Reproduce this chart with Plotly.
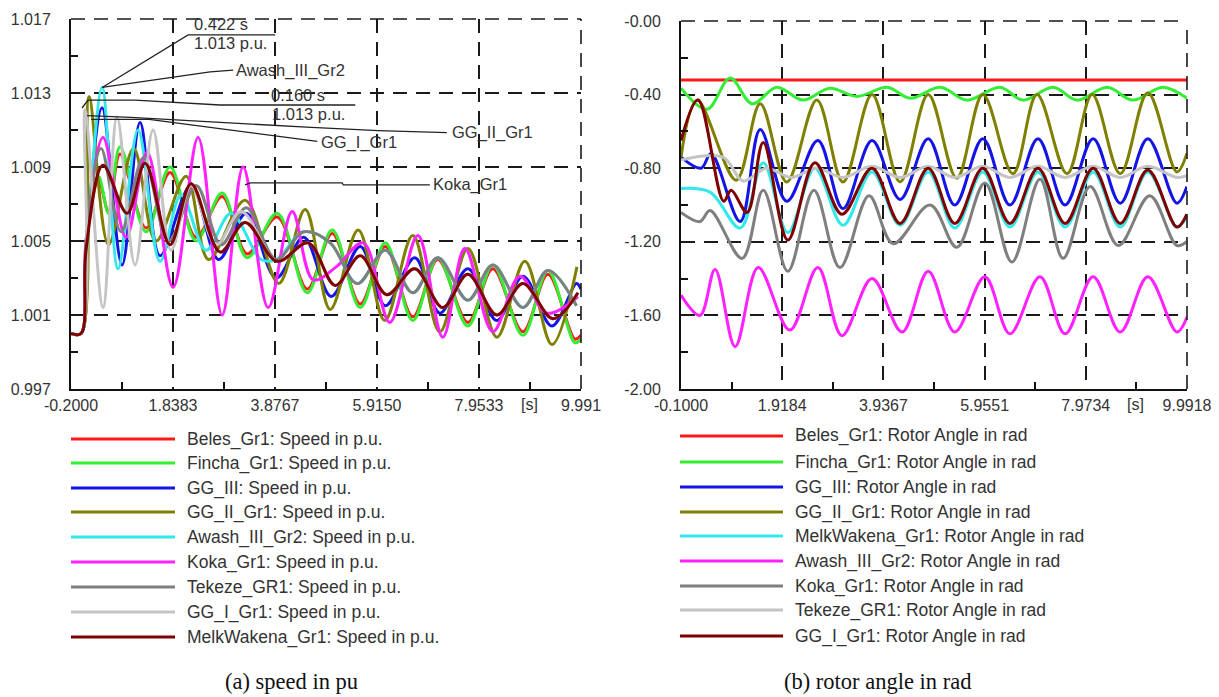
import plotly.graph_objects as go

W, H = 1219, 697

# ---------------- speed (p.u.) ----------------
speed_names = [
    "Beles_Gr1", "Fincha_Gr1", "GG_III", "GG_II_Gr1", "Awash_III_Gr2",
    "Koka_Gr1", "Tekeze_GR1", "GG_I_Gr1", "MelkWakena_Gr1",
]

beles_spd_t = [-0.2, 0.0, 0.15, 0.35, 0.55, 0.78, 1.3, 1.78, 2.3, 2.82, 3.32, 3.92, 4.52, 5.02, 5.58, 6.08, 6.63, 7.13, 7.73, 8.23, 8.83, 9.33, 9.87, 9.99]
beles_spd_v = [1.0, 1.0, 1.0058, 1.0083, 1.0066, 1.0097, 1.0057, 1.0087, 1.0052, 1.0074, 1.0043, 1.0063, 1.0024, 1.0054, 1.0016, 1.0047, 1.0009, 1.0040, 1.0006, 1.0035, 1.0001, 1.0032, 0.9997, 0.9999]

fincha_spd_t = [-0.2, 0.0, 0.15, 0.35, 0.55, 0.78, 1.3, 1.78, 2.3, 2.82, 3.32, 3.92, 4.52, 5.02, 5.58, 6.08, 6.63, 7.13, 7.73, 8.23, 8.83, 9.33, 9.87, 9.99]
fincha_spd_v = [1.0, 1.0, 1.0060, 1.0085, 1.0065, 1.0101, 1.0055, 1.0090, 1.0050, 1.0076, 1.0041, 1.0065, 1.0022, 1.0056, 1.0014, 1.0049, 1.0007, 1.0041, 1.0004, 1.0037, 0.9999, 1.0034, 0.9995, 0.9997]

gg3_spd_t = [-0.2, 0.0, 0.1, 0.42, 0.82, 1.18, 1.58, 2.2, 2.75, 3.3, 3.9, 4.45, 5.0, 5.58, 6.08, 6.67, 7.17, 7.73, 8.31, 8.83, 9.41, 9.9, 9.99]
gg3_spd_v = [1.0, 1.0, 1.0045, 1.0122, 1.0037, 1.0114, 1.0042, 1.0080, 1.0040, 1.0065, 1.0030, 1.0052, 1.0020, 1.0047, 1.0015, 1.0041, 1.0011, 1.0035, 1.0007, 1.0031, 1.0004, 1.0027, 1.0024]

gg2_spd_t = [-0.2, 0.0, 0.16, 0.55, 1.05, 1.5, 2.1, 2.55, 3.28, 3.95, 4.48, 4.98, 5.54, 6.07, 6.63, 7.17, 7.73, 8.31, 8.87, 9.41, 9.91]
gg2_spd_v = [1.0, 1.0, 1.0128, 1.0048, 1.0100, 1.0050, 1.0085, 1.0040, 1.0072, 1.0027, 1.0067, 1.0013, 1.0056, 1.0007, 1.0053, 1.0001, 1.0046, 0.9998, 1.0039, 0.9994, 1.0036]

awash_spd_t = [-0.2, 0.0, 0.1, 0.422, 0.74, 1.14, 1.58, 2.0, 2.5, 3.0, 3.6, 3.9, 4.45, 4.98, 5.52, 6.08, 6.63, 7.13, 7.73, 8.23, 8.83, 9.33, 9.9]
awash_spd_v = [1.0, 1.0, 1.0040, 1.0133, 1.0035, 1.0110, 1.0039, 1.0075, 1.0045, 1.0065, 1.0040, 1.0040, 1.0055, 1.0049, 1.0027, 1.0045, 1.0022, 1.0041, 1.0018, 1.0037, 1.0014, 1.0034, 1.0015]

koka_spd_t = [-0.2, 0.0, 0.1, 0.44, 0.9, 1.32, 1.84, 2.34, 2.82, 3.24, 3.74, 4.22, 4.64, 5.1, 5.64, 6.17, 6.73, 7.23, 7.67, 8.23, 8.77, 9.31, 9.93]
koka_spd_v = [1.0, 1.0, 1.0050, 1.0106, 1.0052, 1.0098, 1.0025, 1.0106, 1.0010, 1.0090, 1.0014, 1.0066, 1.0029, 1.0036, 1.0049, 1.0006, 1.0053, 0.9998, 1.0046, 1.0001, 1.0031, 1.0011, 1.0020]

tekeze_spd_t = [-0.2, 0.0, 0.1, 0.4, 0.8, 1.25, 1.75, 2.3, 2.8, 3.3, 3.9, 4.45, 4.98, 5.52, 6.08, 6.63, 7.13, 7.73, 8.23, 8.83, 9.33, 9.9]
tekeze_spd_v = [1.0, 1.0, 1.0050, 1.0100, 1.0055, 1.0095, 1.0050, 1.0080, 1.0048, 1.0068, 1.0040, 1.0055, 1.0049, 1.0027, 1.0045, 1.0022, 1.0041, 1.0018, 1.0037, 1.0014, 1.0034, 1.0015]

gg1_spd_t = [-0.2, 0.0, 0.08, 0.44, 0.72, 1.08, 1.44, 1.8, 2.2, 2.7, 3.2, 3.92, 4.54, 5.08, 5.58, 6.11, 6.67, 7.23, 7.73, 8.31, 8.83, 9.43, 9.93]
gg1_spd_v = [1.0, 1.0, 1.0121, 1.0014, 1.0117, 1.0037, 1.0110, 1.0045, 1.0080, 1.0048, 1.0066, 1.0039, 1.0049, 1.0026, 1.0042, 1.0021, 1.0035, 1.0014, 1.0032, 1.0010, 1.0027, 1.0008, 1.0022]

melk_spd_t = [-0.2, 0.0, 0.1, 0.44, 0.92, 1.28, 1.78, 2.2, 2.78, 3.28, 3.92, 4.54, 5.08, 5.58, 6.11, 6.67, 7.23, 7.73, 8.31, 8.83, 9.43, 9.93]
melk_spd_v = [1.0, 1.0, 1.0045, 1.0091, 1.0065, 1.0092, 1.0048, 1.0081, 1.0044, 1.0060, 1.0039, 1.0049, 1.0026, 1.0042, 1.0021, 1.0035, 1.0014, 1.0032, 1.0010, 1.0027, 1.0008, 1.0022]

# ---------------- rotor angle (rad) ----------------
angle_names = [
    "Beles_Gr1", "Fincha_Gr1", "GG_III", "GG_II_Gr1", "MelkWakena_Gr1",
    "Awash_III_Gr2", "Koka_Gr1", "Tekeze_GR1", "GG_I_Gr1",
]

beles_ang_t = [-0.1, 9.9918]
beles_ang_v = [-0.32, -0.32]

fincha_ang_t = [-0.1, 0.42, 0.88, 1.32, 1.81, 2.33, 2.87, 3.41, 4.01, 4.47, 5.07, 5.6, 6.26, 6.72, 7.32, 7.8, 8.4, 8.91, 9.51, 9.99]
fincha_ang_v = [-0.365, -0.48, -0.31, -0.45, -0.36, -0.43, -0.365, -0.41, -0.36, -0.42, -0.36, -0.43, -0.36, -0.43, -0.36, -0.43, -0.36, -0.43, -0.36, -0.42]

gg3_ang_t = [-0.1, 0.3, 0.5, 1.08, 1.48, 2.01, 2.63, 3.13, 3.71, 4.27, 4.83, 5.36, 5.92, 6.46, 7.02, 7.56, 8.12, 8.66, 9.21, 9.79, 9.99]
gg3_ang_v = [-0.74, -0.8, -0.72, -1.09, -0.59, -0.98, -0.65, -1.02, -0.65, -0.97, -0.64, -1.0, -0.64, -1.0, -0.64, -1.0, -0.64, -0.99, -0.64, -0.99, -0.9]

gg2_ang_t = [-0.1, 0.22, 1.0, 1.48, 2.01, 2.61, 3.13, 3.71, 4.27, 4.83, 5.4, 5.92, 6.52, 7.0, 7.6, 8.1, 8.66, 9.21, 9.79, 9.99]
gg2_ang_v = [-0.74, -0.43, -0.865, -0.45, -0.875, -0.43, -0.875, -0.4, -0.875, -0.4, -0.855, -0.4, -0.83, -0.4, -0.83, -0.4, -0.83, -0.39, -0.82, -0.72]

melk_ang_t = [-0.1, 0.48, 1.08, 1.54, 2.03, 2.57, 3.13, 3.71, 4.27, 4.83, 5.36, 5.92, 6.46, 7.02, 7.56, 8.12, 8.66, 9.21, 9.79, 9.99]
melk_ang_v = [-0.91, -0.93, -1.125, -0.77, -1.15, -0.8, -1.11, -0.82, -1.11, -0.82, -1.125, -0.82, -1.12, -0.82, -1.12, -0.82, -1.12, -0.82, -1.12, -1.06]

awash_ang_t = [-0.1, 0.28, 0.58, 0.98, 1.44, 2.07, 2.63, 3.11, 3.71, 4.31, 4.83, 5.36, 5.96, 6.46, 7.06, 7.56, 8.12, 8.66, 9.21, 9.79, 9.99]
awash_ang_v = [-1.49, -1.6, -1.35, -1.77, -1.34, -1.68, -1.34, -1.71, -1.4, -1.69, -1.36, -1.69, -1.39, -1.7, -1.39, -1.7, -1.39, -1.69, -1.39, -1.69, -1.61]

koka_ang_t = [-0.1, 0.28, 0.48, 1.12, 1.54, 2.03, 2.55, 3.07, 3.65, 4.13, 4.87, 5.4, 5.96, 6.5, 7.06, 7.52, 8.06, 8.62, 9.25, 9.79, 9.99]
koka_ang_v = [-1.04, -1.09, -1.03, -1.29, -0.92, -1.36, -0.92, -1.34, -0.95, -1.21, -1.0, -1.23, -0.88, -1.31, -0.86, -1.29, -0.9, -1.22, -0.95, -1.22, -1.2]

tekeze_ang_t = [-0.1, 0.74, 1.14, 1.6, 2.1, 2.6, 3.13, 3.71, 4.27, 4.83, 5.36, 5.92, 6.46, 7.02, 7.56, 8.12, 8.66, 9.21, 9.79, 9.99]
tekeze_ang_v = [-0.755, -0.74, -0.87, -0.8, -0.85, -0.8, -0.85, -0.79, -0.85, -0.79, -0.85, -0.79, -0.85, -0.79, -0.85, -0.79, -0.85, -0.79, -0.85, -0.84]

gg1_ang_t = [-0.1, 0.24, 0.75, 0.9, 1.22, 1.54, 2.03, 2.57, 3.11, 3.71, 4.27, 4.83, 5.36, 5.92, 6.46, 7.02, 7.56, 8.12, 8.66, 9.21, 9.79, 9.99]
gg1_ang_v = [-0.65, -0.43, -0.98, -0.92, -1.04, -0.66, -1.19, -0.77, -1.05, -0.8, -1.1, -0.8, -1.1, -0.8, -1.1, -0.8, -1.1, -0.8, -1.1, -0.81, -1.12, -1.05]

colors = ["#ff1a1a", "#33ee33", "#1414e6", "#808000", "#33e8ec",
          "#ff22ff", "#7f7f7f", "#c4c4c4", "#800000"]

speed_series = [
    (beles_spd_t, beles_spd_v), (fincha_spd_t, fincha_spd_v), (gg3_spd_t, gg3_spd_v),
    (gg2_spd_t, gg2_spd_v), (awash_spd_t, awash_spd_v), (koka_spd_t, koka_spd_v),
    (tekeze_spd_t, tekeze_spd_v), (gg1_spd_t, gg1_spd_v), (melk_spd_t, melk_spd_v),
]
angle_series = [
    (beles_ang_t, beles_ang_v), (fincha_ang_t, fincha_ang_v), (gg3_ang_t, gg3_ang_v),
    (gg2_ang_t, gg2_ang_v), (melk_ang_t, melk_ang_v), (awash_ang_t, awash_ang_v),
    (koka_ang_t, koka_ang_v), (tekeze_ang_t, tekeze_ang_v), (gg1_ang_t, gg1_ang_v),
]

# axis ticks
spd_xticks = [-0.2, 1.8383, 3.8767, 5.915, 7.9533, 9.991]
spd_xtext = ["-0.2000", "1.8383", "3.8767", "5.9150", "7.9533", "9.991"]
spd_yticks = [0.997, 1.001, 1.005, 1.009, 1.013, 1.017]
spd_ytext = ["0.997", "1.001", "1.005", "1.009", "1.013", "1.017"]
ang_xticks = [-0.1, 1.9184, 3.9367, 5.9551, 7.9734, 9.9918]
ang_xtext = ["-0.1000", "1.9184", "3.9367", "5.9551", "7.9734", "9.9918"]
ang_yticks = [-2.0, -1.6, -1.2, -0.8, -0.4, 0.0]
ang_ytext = ["-2.00", "-1.60", "-1.20", "-0.80", "-0.40", "-0.00"]


def mids(vals):
    return [(a + b) / 2 for a, b in zip(vals[:-1], vals[1:])]


def px(x):
    return x / W


def py(y):
    return 1 - y / H


fig = go.Figure()

for (t, v), c, n in zip(speed_series, colors, speed_names):
    fig.add_trace(go.Scatter(x=t, y=v, mode="lines", name=n, showlegend=False,
                             line=dict(color=c, width=3, shape="spline", smoothing=1.0),
                             xaxis="x", yaxis="y"))
for (t, v), c, n in zip(angle_series, colors, angle_names):
    fig.add_trace(go.Scatter(x=t, y=v, mode="lines", name=n, showlegend=False,
                             line=dict(color=c, width=3, shape="spline", smoothing=1.0),
                             xaxis="x2", yaxis="y2"))

tickfont = dict(family="Liberation Sans, Arial", size=16, color="#333333")
grid_common = dict(showgrid=True, gridcolor="#1a1a1a", gridwidth=1.6, griddash="14px,9px",
                   showline=True, linecolor="#111111", linewidth=2, zeroline=False,
                   ticks="", tickfont=tickfont, mirror=False, automargin=False)

L_dom_x = [px(71), px(581)]
R_dom_x = [px(681), px(1187)]
dom_y = [py(389), py(19)]
dom_y2 = [py(389), py(21)]

minor_style = dict(ticks="inside", ticklen=7, tickwidth=1.5, tickcolor="#111", showgrid=False)

fig.update_layout(
    width=W, height=H, margin=dict(l=0, r=0, t=0, b=0, autoexpand=False),
    paper_bgcolor="white", plot_bgcolor="white", showlegend=False,
    xaxis=dict(domain=L_dom_x, range=[-0.2, 9.991], tickvals=spd_xticks, ticktext=spd_xtext,
               anchor="y", ticklabelstandoff=1,
               minor=dict(tickvals=mids(spd_xticks), **minor_style), **grid_common),
    yaxis=dict(domain=dom_y, range=[0.997, 1.017], tickvals=spd_yticks, ticktext=spd_ytext,
               anchor="x", ticklabelstandoff=15,
               minor=dict(tickvals=mids(spd_yticks), **minor_style), **grid_common),
    xaxis2=dict(domain=R_dom_x, range=[-0.1, 9.9918], tickvals=ang_xticks, ticktext=ang_xtext,
                anchor="y2", ticklabelstandoff=1,
                minor=dict(tickvals=mids(ang_xticks), **minor_style), **grid_common),
    yaxis2=dict(domain=dom_y2, range=[-2.0, 0.0], tickvals=ang_yticks, ticktext=ang_ytext,
                anchor="x2", ticklabelstandoff=15,
                minor=dict(tickvals=mids(ang_yticks), **minor_style), **grid_common),
)

shapes = []
annos = []

# dashed top and right frame edges
for xa, ya in (("x", "y"), ("x2", "y2")):
    dashed = dict(color="#1a1a1a", width=1.6, dash="14px,9px")
    shapes.append(dict(type="line", xref=f"{xa} domain", yref=f"{ya} domain",
                       x0=0, x1=1, y0=1, y1=1, line=dashed))
    shapes.append(dict(type="line", xref=f"{xa} domain", yref=f"{ya} domain",
                       x0=1, x1=1, y0=0, y1=1, line=dashed))

# "[s]" unit labels on the time axes
annos.append(dict(x=8.97, xref="x", y=py(404), yref="paper", text="[s]", showarrow=False,
                  font=tickfont, xanchor="center", yanchor="middle"))
annos.append(dict(x=8.97, xref="x2", y=py(404), yref="paper", text="[s]", showarrow=False,
                  font=tickfont, xanchor="center", yanchor="middle"))

# cursor readouts and curve labels on the speed plot
lbl_font = dict(family="Liberation Sans, Arial", size=16.5, color="#333333")
lead = dict(color="#222222", width=1.3)


def leader(pts):
    path = "M " + " L ".join(f"{a},{b}" for a, b in pts)
    shapes.append(dict(type="path", xref="x", yref="y", path=path, line=lead))


awash_peak = (awash_spd_t[3], awash_spd_v[3])
leader([awash_peak, (2.14, 1.01614), (3.88, 1.01614)])
leader([awash_peak, (2.58, 1.01414), (3.04, 1.01424)])
leader([(0.02, 1.01219), (0.14, 1.01262), (1.08, 1.01262), (2.78, 1.01235), (5.48, 1.01235)])
leader([(0.12, 1.01178), (1.0, 1.01168), (4.6, 1.01114), (5.94, 1.01097), (7.31, 1.01086)])
leader([(0.2, 1.01157), (1.36, 1.01157), (4.72, 1.01038)])
leader([(3.28, 1.00803), (3.38, 1.00814), (5.22, 1.00814), (5.24, 1.00803), (6.97, 1.00803)])

for txt, x, y in [("0.422 s", 2.22, 1.01672), ("1.013 p.u.", 2.22, 1.01570),
                  ("Awash_III_Gr2", 3.06, 1.01424), ("0.160 s", 3.76, 1.01289),
                  ("1.013 p.u.", 3.78, 1.01186), ("GG_II_Gr1", 7.38, 1.01086),
                  ("GG_I_Gr1", 4.76, 1.01035), ("Koka_Gr1", 7.0, 1.00803)]:
    annos.append(dict(x=x, y=y, xref="x", yref="y", text=txt, showarrow=False,
                      xanchor="left", yanchor="middle", font=lbl_font))

# legends drawn below each plot
leg_font = dict(family="Liberation Sans, Arial", size=17.5, color="#333333")
left_rows = [439, 463, 488, 512, 537, 562, 587, 612, 637]
right_rows = [436, 462, 487, 512, 536, 561, 586, 610, 636]
for i, n in enumerate(speed_names):
    y = left_rows[i]
    shapes.append(dict(type="line", xref="paper", yref="paper", x0=px(71), x1=px(175),
                       y0=py(y), y1=py(y), line=dict(color=colors[i], width=3)))
    annos.append(dict(x=px(185), y=py(y), xref="paper", yref="paper", text=f"{n}: Speed in p.u.",
                      showarrow=False, xanchor="left", yanchor="middle", font=leg_font))
for i, n in enumerate(angle_names):
    y = right_rows[i]
    shapes.append(dict(type="line", xref="paper", yref="paper", x0=px(680), x1=px(783),
                       y0=py(y), y1=py(y), line=dict(color=colors[i], width=3)))
    annos.append(dict(x=px(793), y=py(y), xref="paper", yref="paper", text=f"{n}: Rotor Angle in rad",
                      showarrow=False, xanchor="left", yanchor="middle", font=leg_font))

cap_font = dict(family="Liberation Serif, Times New Roman", size=22.5, color="#111111")
annos.append(dict(x=px(291), y=py(681), xref="paper", yref="paper", text="(a) speed in pu",
                  showarrow=False, xanchor="center", yanchor="middle", font=cap_font))
annos.append(dict(x=px(877), y=py(681), xref="paper", yref="paper", text="(b) rotor angle in rad",
                  showarrow=False, xanchor="center", yanchor="middle", font=cap_font))

fig.update_layout(shapes=shapes, annotations=annos)
fig.write_html("out.html")
